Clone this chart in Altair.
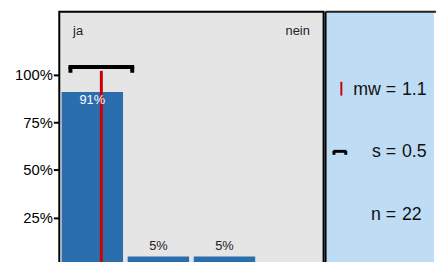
import altair as alt
import pandas as pd

# ---- data ----
categories = [1, 2, 3, 4]
counts = [20, 1, 1, 0]
end_labels = ["ja", "nein"]
stat_names = ["mw", "s", "n"]
stat_labels = ["mw =", "s =", "n ="]

n = sum(counts)
mean = sum(c * k for c, k in zip(categories, counts)) / n
sd = (sum(k * (c - mean) ** 2 for c, k in zip(categories, counts)) / (n - 1)) ** 0.5
stat_values = [f"{mean:.1f}", f"{sd:.1f}", str(n)]

# ---- style ----
FONT = "Liberation Sans"
BAR = "#2B6EAE"
RED = "#CC0000"
GRAY = "#E5E5E5"
BLUE = "#BEDDF5"
H = 257
WR = 110

bars_df = pd.DataFrame({"cat": categories, "count": counts})
bars_df["share"] = bars_df["count"] / n
bars_df["label"] = [f"{round(s * 100)}%" for s in bars_df["share"]]

stats_df = pd.DataFrame({"mean": [mean], "lo": [mean - sd], "hi": [mean + sd]})

xs = alt.Scale(domain=[0.5, 4.5], nice=False, zero=False)
ys = alt.Scale(domain=[0, 1.33], nice=False)

base = alt.Chart(bars_df).transform_calculate(
    x0="datum.cat - 0.465", x1="datum.cat + 0.465"
)

bars = base.mark_bar(color=BAR).encode(
    x=alt.X("x0:Q", scale=xs, axis=None),
    x2="x1:Q",
    y=alt.Y(
        "share:Q",
        scale=ys,
        axis=alt.Axis(
            values=[0.25, 0.5, 0.75, 1.0],
            format=".0%",
            title=None,
            grid=False,
            domain=False,
            ticks=True,
            tickColor="black",
            tickWidth=2,
            tickSize=6,
            labelFontSize=15,
            labelColor="black",
            labelPadding=1,
            labelFont=FONT,
        ),
    ),
    y2=alt.datum(0),
)

inside = base.transform_filter("datum.share > 0.5").mark_text(
    color="white", fontSize=13, font=FONT, baseline="top", dy=2
).encode(x=alt.X("cat:Q", scale=xs), y=alt.Y("share:Q", scale=ys), text="label:N")

above = base.transform_filter("datum.share > 0 && datum.share <= 0.5").mark_text(
    color="#222222", fontSize=13, font=FONT, baseline="alphabetic", dy=-7
).encode(x=alt.X("cat:Q", scale=xs), y=alt.Y("share:Q", scale=ys), text="label:N")

sbase = alt.Chart(stats_df)
mean_rule = sbase.mark_rule(color=RED, strokeWidth=3).encode(
    x=alt.X("mean:Q", scale=xs), y=alt.datum(0), y2=alt.datum(1.02)
)
br_h = sbase.mark_rule(color="black", strokeWidth=4, strokeCap="square").encode(
    x=alt.X("lo:Q", scale=xs), x2="hi:Q", y=alt.datum(1.04)
)
br_l = sbase.mark_rule(color="black", strokeWidth=4).encode(
    x=alt.X("lo:Q", scale=xs), y=alt.datum(1.04), y2=alt.datum(1.01)
)
br_r = sbase.mark_rule(color="black", strokeWidth=4).encode(
    x=alt.X("hi:Q", scale=xs), y=alt.datum(1.04), y2=alt.datum(1.01)
)

ends_df = pd.DataFrame({"label": end_labels})
ja = alt.Chart(ends_df).transform_filter(f"datum.label == '{end_labels[0]}'").mark_text(
    align="left", baseline="alphabetic", fontSize=13, font=FONT, color="#222222"
).encode(x=alt.value(14), y=alt.value(24), text="label:N")
nein = alt.Chart(ends_df).transform_filter(f"datum.label == '{end_labels[1]}'").mark_text(
    align="right", baseline="alphabetic", fontSize=13, font=FONT, color="#222222"
).encode(x=alt.value(254), y=alt.value(24), text="label:N")

left = alt.layer(bars, mean_rule, br_h, br_l, br_r, inside, above, ja, nein).properties(
    width=268, height=H,
    view=alt.ViewBackground(fill=GRAY, stroke="black", strokeWidth=2),
)

# ---- right info panel ----
info_df = pd.DataFrame({"name": stat_names, "label": stat_labels, "value": stat_values})
ypos = alt.Y("name:N", scale=alt.Scale(domain=stat_names, range=[84, 211], padding=0), axis=None)
lab = alt.Chart(info_df).mark_text(
    align="right", baseline="alphabetic", fontSize=18, font=FONT, color="#111111"
).encode(x=alt.value(71.5), y=ypos, text="label:N")
val = alt.Chart(info_df).mark_text(
    align="left", baseline="alphabetic", fontSize=18, font=FONT, color="#111111"
).encode(x=alt.value(77.5), y=ypos, text="value:N")

sym_df = pd.DataFrame({"k": [0]})
top_border = alt.Chart(sym_df).mark_rule(color="#222222", strokeWidth=2).encode(
    x=alt.value(0), x2=alt.value(WR + 2), y=alt.value(0)
)
left_border = alt.Chart(sym_df).mark_rule(color="black", strokeWidth=2).encode(
    x=alt.value(0), y=alt.value(0), y2=alt.value(H)
)
red_tick = alt.Chart(sym_df).mark_rule(color=RED, strokeWidth=2).encode(
    x=alt.value(16), y=alt.value(71), y2=alt.value(85)
)
sb_h = alt.Chart(sym_df).mark_rule(color="black", strokeWidth=3).encode(
    x=alt.value(8), x2=alt.value(21), y=alt.value(141.5)
)
sb_l = alt.Chart(sym_df).mark_rule(color="black", strokeWidth=3).encode(
    x=alt.value(8.5), y=alt.value(141), y2=alt.value(145)
)
sb_r = alt.Chart(sym_df).mark_rule(color="black", strokeWidth=3).encode(
    x=alt.value(20.5), y=alt.value(141), y2=alt.value(145)
)

right = alt.layer(top_border, left_border, lab, val, red_tick, sb_h, sb_l, sb_r).properties(
    width=WR, height=H,
    view=alt.ViewBackground(fill=BLUE, stroke=None, strokeWidth=0),
)

chart = alt.hconcat(left, right, spacing=0).properties(
    padding={"left": 5, "top": 1, "right": 0, "bottom": 0}
).configure(font=FONT)

chart.save("out.html", embed_options={"renderer": "svg", "actions": False})
